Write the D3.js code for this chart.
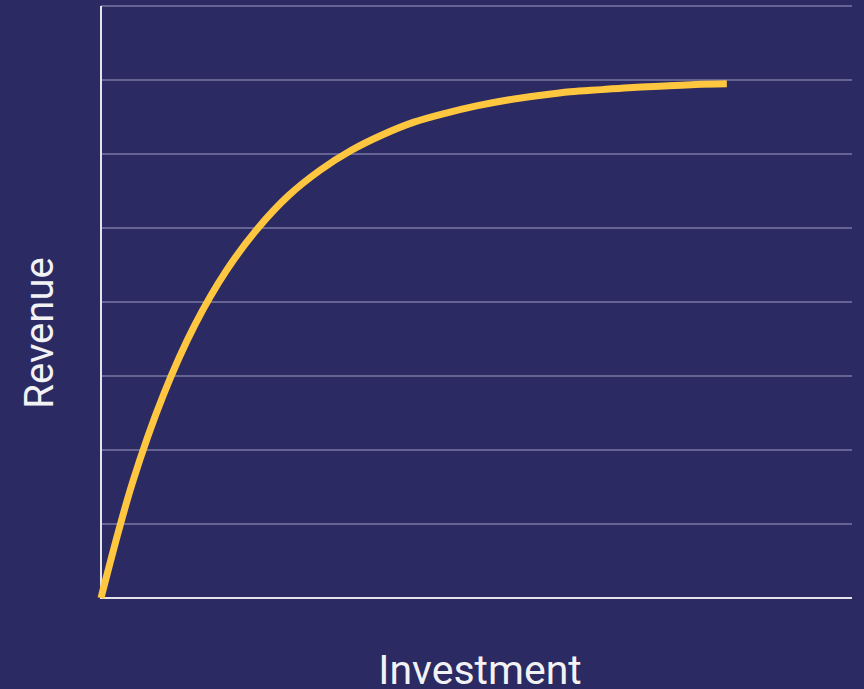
<!DOCTYPE html>
<html>
<head>
<meta charset="utf-8">
<script src="https://cdn.jsdelivr.net/npm/d3@7"></script>
<style>
  html, body { margin: 0; padding: 0; background: #2b2a62; }
  svg { display: block; }
</style>
</head>
<body>
<svg id="chart" width="864" height="689"></svg>
<script>
// Data
const investment = [0, 0.5, 1, 1.5, 2, 2.5, 3, 3.5, 4, 4.5, 5, 5.5, 6, 6.5, 7, 7.5, 8, 8.5, 9, 9.5, 10];
const revenue    = [0, 1.55, 2.75, 3.69, 4.42, 4.99, 5.44, 5.78, 6.05, 6.26, 6.43, 6.55, 6.65, 6.73, 6.79, 6.84, 6.87, 6.90, 6.92, 6.94, 6.95];
const gridTicks  = [1, 2, 3, 4, 5, 6, 7, 8];
const xLabel = "Investment";
const yLabel = "Revenue";

(function () {
  const svg = d3.select("#chart");
  const W = 864, H = 689;
  svg.append("rect").attr("width", W).attr("height", H).attr("fill", "#2b2a62");

  const pLeft = 101, pRight = 852, pTop = 6, pBottom = 598;
  const x = d3.scaleLinear().domain([0, 12]).range([pLeft, pRight]);
  const y = d3.scaleLinear().domain([0, 8]).range([pBottom, pTop]);

  // gridlines
  svg.append("g")
    .selectAll("line")
    .data(gridTicks)
    .join("line")
    .attr("x1", pLeft).attr("x2", pRight)
    .attr("y1", d => y(d)).attr("y2", d => y(d))
    .attr("stroke", "#7a79a3")
    .attr("stroke-width", 1.6);

  // axes
  svg.append("line")
    .attr("x1", pLeft).attr("x2", pLeft)
    .attr("y1", y(8)).attr("y2", pBottom + 1)
    .attr("stroke", "#e4e4ea").attr("stroke-width", 2);
  svg.append("line")
    .attr("x1", pLeft).attr("x2", pRight)
    .attr("y1", pBottom).attr("y2", pBottom)
    .attr("stroke", "#e4e4ea").attr("stroke-width", 2);

  // curve
  const data = investment.map((v, i) => [v, revenue[i]]);
  const line = d3.line()
    .x(d => x(d[0]))
    .y(d => y(d[1]))
    .curve(d3.curveCatmullRom.alpha(0.5));
  svg.append("path")
    .datum(data)
    .attr("d", line)
    .attr("fill", "none")
    .attr("stroke", "#ffc640")
    .attr("stroke-width", 7)
    .attr("stroke-linecap", "butt");

  // labels
  svg.append("text")
    .attr("x", 480).attr("y", 684)
    .attr("text-anchor", "middle")
    .attr("font-family", "Roboto, sans-serif")
    .attr("font-size", 41)
    .attr("fill", "#f2f2f5")
    .text(xLabel);
  svg.append("text")
    .attr("transform", "translate(53,333) rotate(-90)")
    .attr("text-anchor", "middle")
    .attr("font-family", "Roboto, sans-serif")
    .attr("font-size", 40)
    .attr("fill", "#f2f2f5")
    .text(yLabel);
})();
</script>
</body>
</html>
